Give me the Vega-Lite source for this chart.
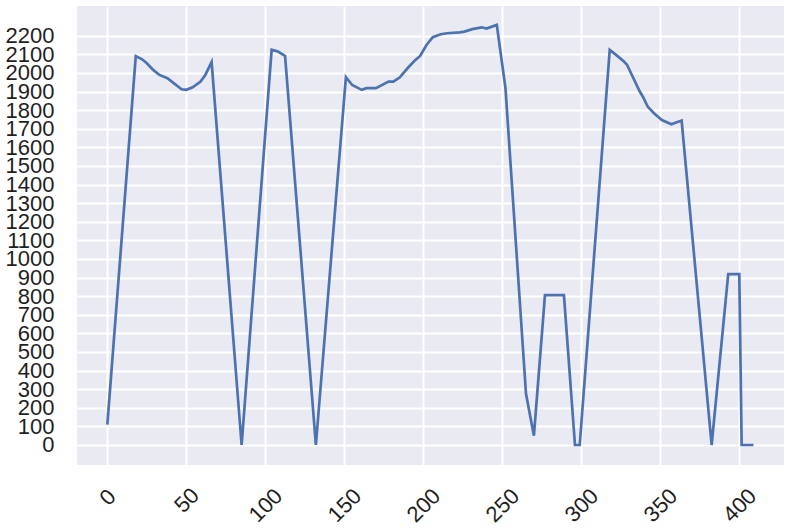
{
  "$schema": "https://vega.github.io/schema/vega-lite/v6.json",
  "width": 707,
  "height": 459,
  "autosize": {"type": "none"},
  "padding": {"left": 77, "top": 6, "right": 16, "bottom": 66},
  "background": "white",
  "config": {
    "view": {"fill": "#EAEAF2", "stroke": null},
    "axis": {
      "labelFont": "Liberation Sans",
      "labelFontSize": 22,
      "labelColor": "#1f1f1f",
      "gridColor": "white",
      "gridWidth": 2,
      "domain": false,
      "ticks": false,
      "title": null,
      "format": "d",
      "labelOverlap": false,
      "labelBound": false,
      "labelFlush": false
    }
  },
  "data": {
    "values": [
      {"x": 0, "y": 110}, {"x": 18, "y": 2090}, {"x": 22, "y": 2073}, {"x": 25, "y": 2052},
      {"x": 29, "y": 2016}, {"x": 33, "y": 1989}, {"x": 38, "y": 1971}, {"x": 42, "y": 1945},
      {"x": 47, "y": 1912}, {"x": 50, "y": 1909}, {"x": 54, "y": 1923}, {"x": 59, "y": 1953},
      {"x": 62, "y": 1989}, {"x": 66, "y": 2058}, {"x": 85, "y": 0}, {"x": 104, "y": 2124},
      {"x": 108, "y": 2115}, {"x": 112.5, "y": 2091}, {"x": 132, "y": 0}, {"x": 151, "y": 1977},
      {"x": 155, "y": 1935}, {"x": 161, "y": 1909}, {"x": 164, "y": 1918}, {"x": 170, "y": 1918},
      {"x": 178, "y": 1953}, {"x": 181, "y": 1953}, {"x": 185, "y": 1975}, {"x": 190, "y": 2025},
      {"x": 195, "y": 2070}, {"x": 198, "y": 2091}, {"x": 202, "y": 2150}, {"x": 206, "y": 2192},
      {"x": 211, "y": 2208}, {"x": 215, "y": 2213}, {"x": 223, "y": 2218}, {"x": 226, "y": 2222},
      {"x": 231, "y": 2235}, {"x": 237, "y": 2245}, {"x": 240, "y": 2238}, {"x": 246.5, "y": 2258},
      {"x": 252, "y": 1918}, {"x": 265, "y": 275}, {"x": 270, "y": 50}, {"x": 277, "y": 806},
      {"x": 289, "y": 806}, {"x": 296, "y": 0}, {"x": 299, "y": 0}, {"x": 318, "y": 2124},
      {"x": 322, "y": 2097}, {"x": 327, "y": 2061}, {"x": 329, "y": 2043}, {"x": 333, "y": 1971},
      {"x": 337, "y": 1900}, {"x": 339, "y": 1872}, {"x": 342, "y": 1819}, {"x": 346, "y": 1783},
      {"x": 351, "y": 1747}, {"x": 357, "y": 1724}, {"x": 360, "y": 1733}, {"x": 363.5, "y": 1744},
      {"x": 382.5, "y": 0}, {"x": 393, "y": 918}, {"x": 400, "y": 918}, {"x": 401.5, "y": 0},
      {"x": 409, "y": 0}
    ]
  },
  "mark": {"type": "line", "color": "#4C72B0", "strokeWidth": 2.7, "clip": true},
  "encoding": {
    "x": {
      "field": "x",
      "type": "quantitative",
      "scale": {"domain": [-19.2, 428.3], "nice": false, "zero": false},
      "axis": {
        "values": [0, 50, 100, 150, 200, 250, 300, 350, 400],
        "labelAngle": -45,
        "labelAlign": "center",
        "labelBaseline": "middle",
        "labelPadding": {"condition": [{"test": "datum.value >= 100", "value": 40}, {"test": "datum.value >= 50", "value": 35}], "value": 32}
      }
    },
    "y": {
      "field": "y",
      "type": "quantitative",
      "scale": {"domain": [-107.5, 2359.6], "nice": false, "zero": false},
      "axis": {
        "values": [0, 100, 200, 300, 400, 500, 600, 700, 800, 900, 1000, 1100, 1200, 1300, 1400, 1500, 1600, 1700, 1800, 1900, 2000, 2100, 2200],
        "labelPadding": 23
      }
    }
  }
}
